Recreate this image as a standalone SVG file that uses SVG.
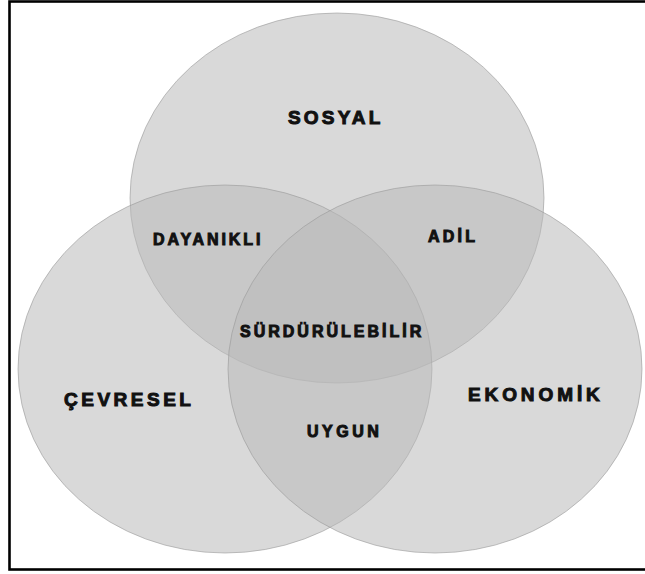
<svg xmlns="http://www.w3.org/2000/svg" width="645" height="574" viewBox="0 0 645 574">
<style>
.c{fill:#b9b9b9;fill-opacity:0.54;stroke:#9a9a9a;stroke-opacity:0.6;stroke-width:1}
.t{font-family:"Liberation Sans",Arial,sans-serif;font-weight:bold;fill:#111;stroke:#111;stroke-width:1}
.big{font-size:19px}
.sm{font-size:16px}
</style>
<rect x="0" y="0" width="645" height="574" fill="#fff"/>
<rect x="9.5" y="1.5" width="650" height="568" fill="none" stroke="#000" stroke-width="2.6"/>
<g id="sosyal"><ellipse class="c" cx="337" cy="198" rx="207" ry="185"/></g>
<g id="cevresel"><ellipse class="c" cx="225" cy="369" rx="207" ry="184"/></g>
<g id="ekonomik"><ellipse class="c" cx="435" cy="369" rx="207" ry="184"/></g>
<g id="connectors"/>
<g id="labels">
<text id="l-sosyal" class="t big" x="288" y="124" letter-spacing="3.2">SOSYAL</text>
<text id="l-cevresel" class="t big" x="64" y="406" letter-spacing="3.5">ÇEVRESEL</text>
<text id="l-ekonomik" class="t big" x="468" y="401" letter-spacing="3.9">EKONOMİK</text>
<text id="l-dayanikli" class="t sm" x="153" y="245" letter-spacing="2.9">DAYANIKLI</text>
<text id="l-adil" class="t sm" x="428" y="242" letter-spacing="3.2">ADİL</text>
<text id="l-surdurulebilir" class="t sm" x="240" y="337" letter-spacing="3">SÜRDÜRÜLEBİLİR</text>
<text id="l-uygun" class="t sm" x="307" y="437" letter-spacing="3.5">UYGUN</text>
</g>
</svg>
